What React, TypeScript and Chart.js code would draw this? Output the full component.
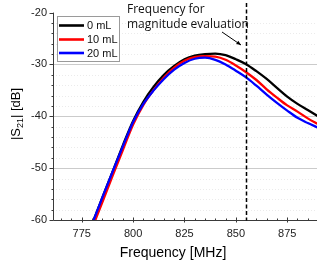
import React, { useEffect, useRef } from "react";
import { Chart, registerables } from "chart.js";

Chart.register(...registerables);

const freqMHz = [780, 785, 790, 795, 800, 805, 810, 815, 820, 825, 830, 835, 840, 845, 850, 855, 860, 865, 870, 875, 880, 885, 890];
const s21_0mL = [-60.8, -55.7, -50.7, -45.6, -40.9, -37.2, -34.3, -32.0, -30.3, -29.0, -28.3, -28.0, -27.9, -28.2, -29.0, -29.95, -31.3, -32.8, -34.5, -36.2, -37.6, -38.8, -40.0];
const s21_10mL = [-61.6, -56.6, -51.5, -46.5, -41.6, -37.8, -34.9, -32.5, -30.6, -29.3, -28.6, -28.4, -28.5, -29.1, -30.2, -31.5, -33.0, -34.8, -36.4, -37.9, -39.1, -40.4, -41.5];
const s21_20mL = [-60.8, -55.7, -50.7, -45.8, -41.1, -37.6, -35.0, -32.8, -31.0, -29.7, -28.9, -28.7, -29.1, -30.0, -31.2, -32.5, -34.1, -35.8, -37.4, -38.9, -40.3, -41.3, -42.2];
const seriesLabels = ["0 mL", "10 mL", "20 mL"];
const seriesColors = ["#000000", "#ff0000", "#0000ff"];
const xTicks = [775, 800, 825, 850, 875];
const yTicks = [-60, -50, -40, -30, -20];
const markerFreq = 855;
const annotationLines = ["Frequency for", "magnitude evaluation"];

const X_MIN = 761;
const X_MAX = 889.5;
const Y_MIN = -60;
const Y_MAX = -20;

const decorPlugin = {
  id: "decor",
  beforeDatasetsDraw(chart: any) {
    const { ctx, chartArea: a, scales } = chart;
    const y = scales.y;
    ctx.save();
    for (let v = Y_MIN + 2; v < Y_MAX; v += 2) {
      const py = Math.round(y.getPixelForValue(v)) + 0.5;
      ctx.beginPath();
      if (v % 10 === 0) {
        ctx.strokeStyle = "#cbcbcb";
        ctx.setLineDash([]);
      } else {
        ctx.strokeStyle = "#ebebeb";
        ctx.setLineDash([1, 2]);
      }
      ctx.lineWidth = 1;
      ctx.moveTo(a.left, py);
      ctx.lineTo(a.right, py);
      ctx.stroke();
    }
    ctx.restore();
  },
  afterDatasetsDraw(chart: any) {
    const { ctx, chartArea: a, scales } = chart;
    const x = scales.x;
    const y = scales.y;
    ctx.save();
    // axes
    ctx.strokeStyle = "#3a3a3a";
    ctx.lineWidth = 1;
    ctx.setLineDash([]);
    const lx = Math.round(a.left) + 0.5;
    const by = Math.round(a.bottom) + 0.5;
    ctx.beginPath();
    ctx.moveTo(lx, a.top);
    ctx.lineTo(lx, by);
    ctx.lineTo(a.right, by);
    ctx.stroke();
    // y ticks
    for (let v = Y_MIN; v <= Y_MAX; v += 2) {
      const py = Math.round(y.getPixelForValue(v)) + 0.5;
      const len = v % 10 === 0 ? 4 : 2;
      ctx.beginPath();
      ctx.moveTo(lx - len, py);
      ctx.lineTo(lx, py);
      ctx.stroke();
    }
    // x ticks
    for (let v = 765; v <= 885; v += 5) {
      const px = Math.round(x.getPixelForValue(v)) + 0.5;
      const major = v % 25 === 0;
      ctx.beginPath();
      ctx.moveTo(px, by - (major ? 3 : 2));
      ctx.lineTo(px, by + (major ? 2 : 0));
      ctx.stroke();
    }
    // dashed marker line
    const mx = Math.round(x.getPixelForValue(markerFreq)) + 0.5;
    ctx.strokeStyle = "#000";
    ctx.lineWidth = 1.5;
    ctx.setLineDash([4, 2.5]);
    ctx.beginPath();
    ctx.moveTo(mx, 3);
    ctx.lineTo(mx, by);
    ctx.stroke();
    ctx.setLineDash([]);

    // legend box
    const bx = 57, bt = 16, bw = 62, bh = 45;
    ctx.fillStyle = "#ffffff";
    ctx.fillRect(bx, bt, bw, bh);
    ctx.strokeStyle = "#9a9a9a";
    ctx.lineWidth = 1;
    ctx.strokeRect(bx + 0.5, bt + 0.5, bw, bh);
    ctx.font = "11px Arial, 'Liberation Sans', sans-serif";
    ctx.textBaseline = "middle";
    ctx.textAlign = "left";
    const rows = [25.5, 39.5, 53];
    for (let i = 0; i < seriesLabels.length; i++) {
      ctx.strokeStyle = seriesColors[i];
      ctx.lineWidth = 2.6;
      ctx.beginPath();
      ctx.moveTo(59, rows[i]);
      ctx.lineTo(84, rows[i]);
      ctx.stroke();
      ctx.fillStyle = "#111";
      ctx.fillText(seriesLabels[i], 87, rows[i] + 0.5);
    }

    // annotation text
    ctx.font = "12px 'Open Sans', 'Noto Sans', sans-serif";
    ctx.fillStyle = "#111";
    ctx.textBaseline = "middle";
    ctx.fillText(annotationLines[0], 127, 10);
    ctx.fillText(annotationLines[1], 127, 25);
    // arrow
    const x1 = 222, y1 = 32, x2 = 241, y2 = 45;
    ctx.strokeStyle = "#000";
    ctx.lineWidth = 1;
    ctx.beginPath();
    ctx.moveTo(x1, y1);
    ctx.lineTo(x2, y2);
    ctx.stroke();
    const ang = Math.atan2(y2 - y1, x2 - x1);
    ctx.fillStyle = "#000";
    ctx.beginPath();
    ctx.moveTo(x2, y2);
    ctx.lineTo(x2 - 5 * Math.cos(ang - 0.4), y2 - 5 * Math.sin(ang - 0.4));
    ctx.lineTo(x2 - 5 * Math.cos(ang + 0.4), y2 - 5 * Math.sin(ang + 0.4));
    ctx.closePath();
    ctx.fill();

    // axis titles
    ctx.fillStyle = "#000";
    ctx.font = "14px Arial, 'Liberation Sans', sans-serif";
    ctx.textAlign = "center";
    ctx.textBaseline = "middle";
    ctx.fillText("Frequency [MHz]", 173, 253);

    ctx.save();
    ctx.translate(15, 114);
    ctx.rotate(-Math.PI / 2);
    const big = "13px Arial, 'Liberation Sans', sans-serif";
    const small = "9px Arial, 'Liberation Sans', sans-serif";
    const p1 = "|S", p2 = "21", p3 = "| [dB]";
    ctx.font = big;
    const w1 = ctx.measureText(p1).width;
    const w3 = ctx.measureText(p3).width;
    ctx.font = small;
    const w2 = ctx.measureText(p2).width;
    let sx = -(w1 + w2 + w3) / 2;
    ctx.textAlign = "left";
    ctx.textBaseline = "alphabetic";
    ctx.font = big;
    ctx.fillText(p1, sx, 4.5);
    sx += w1;
    ctx.font = small;
    ctx.fillText(p2, sx, 7.5);
    sx += w2;
    ctx.font = big;
    ctx.fillText(p3, sx, 4.5);
    ctx.restore();

    ctx.restore();
  },
};

export default function App() {
  const ref = useRef<HTMLCanvasElement | null>(null);
  useEffect(() => {
    if (!ref.current) return;
    const mk = (vals: number[]) => freqMHz.map((f, i) => ({ x: f, y: vals[i] }));
    const all = [s21_0mL, s21_10mL, s21_20mL];
    const chart = new Chart(ref.current, {
      type: "line",
      data: {
        datasets: all.map((vals, i) => ({
          label: seriesLabels[i],
          data: mk(vals),
          borderColor: seriesColors[i],
          backgroundColor: seriesColors[i],
          borderWidth: 2.3,
          pointRadius: 0,
          cubicInterpolationMode: "monotone" as const,
          order: 3 - i,
        })),
      },
      options: {
        animation: false,
        responsive: false,
        devicePixelRatio: 1,
        layout: { padding: { top: 7, right: 3, left: 0, bottom: 0 } },
        plugins: { legend: { display: false }, tooltip: { enabled: false } },
        scales: {
          x: {
            type: "linear",
            min: X_MIN,
            max: X_MAX,
            grid: { display: false, drawTicks: false },
            border: { display: false },
            afterBuildTicks: (s: any) => {
              s.ticks = xTicks.map((v) => ({ value: v }));
            },
            afterFit: (s: any) => {
              s.height = 43;
            },
            ticks: {
              padding: 7,
              maxRotation: 0,
              color: "#222",
              font: { family: "Arial, 'Liberation Sans', sans-serif", size: 11 },
            },
          },
          y: {
            type: "linear",
            min: Y_MIN,
            max: Y_MAX,
            grid: { display: false, drawTicks: false },
            border: { display: false },
            afterBuildTicks: (s: any) => {
              s.ticks = yTicks.map((v) => ({ value: v }));
            },
            afterFit: (s: any) => {
              s.width = 53;
            },
            ticks: {
              padding: 6,
              color: "#222",
              font: { family: "Arial, 'Liberation Sans', sans-serif", size: 11 },
            },
          },
        },
      },
      plugins: [decorPlugin],
    });
    return () => chart.destroy();
  }, []);
  return (
    <div style={{ position: "absolute", left: 0, top: 0, width: 320, height: 263, background: "#fff" }}>
      <canvas ref={ref} width={320} height={263} />
    </div>
  );
}
